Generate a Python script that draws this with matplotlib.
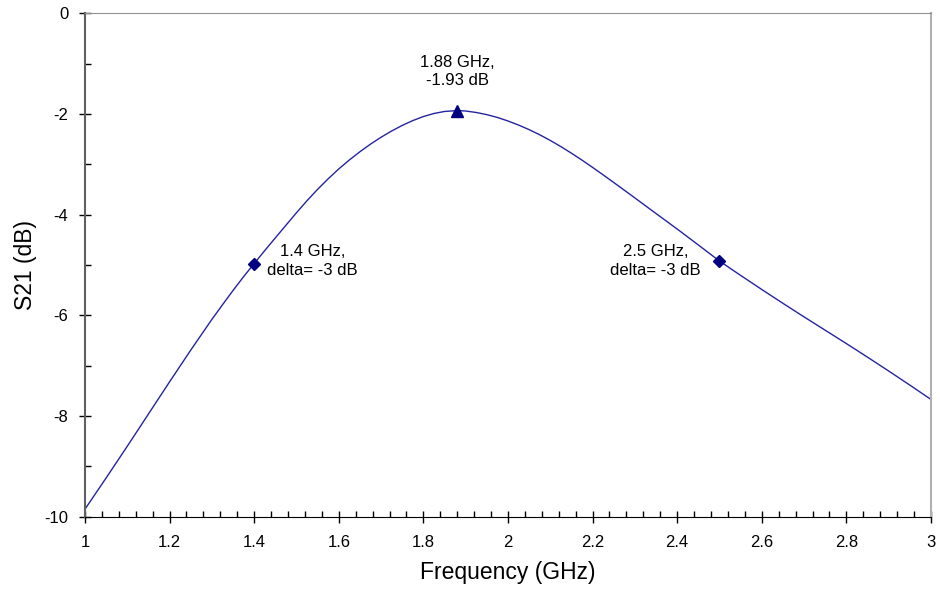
import numpy as np
import matplotlib.pyplot as plt
from matplotlib.ticker import MultipleLocator

plt.rcParams['font.family'] = ['Liberation Sans', 'DejaVu Sans']
plt.rcParams['axes.unicode_minus'] = False

# S21 curve
freq = [1.00, 1.05, 1.10, 1.15, 1.20, 1.25, 1.30, 1.325, 1.35, 1.375,
        1.40, 1.425, 1.45, 1.475, 1.50, 1.525, 1.55, 1.575, 1.60, 1.625,
        1.65, 1.675, 1.70, 1.725, 1.75, 1.775, 1.80, 1.825, 1.85, 1.88,
        1.90, 1.925, 1.95, 1.975, 2.00, 2.025, 2.05, 2.075, 2.10, 2.125,
        2.15, 2.175, 2.20, 2.225, 2.25, 2.275, 2.30, 2.325, 2.35, 2.375,
        2.40, 2.45, 2.50, 2.55, 2.60, 2.65, 2.70, 2.75, 2.80, 2.85,
        2.90, 2.95, 3.00]
s21 = [-9.85, -9.23, -8.60, -7.96, -7.32, -6.69, -6.08, -5.79, -5.505, -5.23,
       -4.97, -4.712, -4.46, -4.21, -3.96, -3.72, -3.495, -3.285, -3.09, -2.912,
       -2.748, -2.597, -2.46, -2.336, -2.225, -2.129, -2.049, -1.988, -1.948, -1.93,
       -1.939, -1.968, -2.011, -2.067, -2.137, -2.218, -2.309, -2.411, -2.524, -2.646,
       -2.777, -2.915, -3.059, -3.208, -3.359, -3.512, -3.666, -3.821, -3.976, -4.13,
       -4.284, -4.60, -4.92, -5.205, -5.485, -5.76, -6.03, -6.295, -6.56, -6.83,
       -7.105, -7.385, -7.67]

peak_f, peak_db = 1.88, -1.93
edge_f = [1.4, 2.5]
edge_db = [-4.97, -4.92]

fig = plt.figure(figsize=(9.4, 5.97), dpi=100)
ax = fig.add_axes([0.0904, 0.1345, 0.9, 0.843])

ax.plot(freq, s21, color='#2424a0', lw=1.0)
ax.plot([peak_f], [peak_db], marker='^', color='#000080', ms=8, ls='none')
ax.plot(edge_f, edge_db, marker='D', color='#000080', ms=6, ls='none')

txt = dict(textcoords='offset points', ha='center', va='center', fontsize=12,
           linespacing=1.3, multialignment='center')
ax.annotate('1.88 GHz,\n-1.93 dB', (peak_f, peak_db), xytext=(0, 28), **txt)
ax.annotate('1.4 GHz,\ndelta= -3 dB', (edge_f[0], edge_db[0]), xytext=(42, 2), **txt)
ax.annotate('2.5 GHz,\ndelta= -3 dB', (edge_f[1], edge_db[1]), xytext=(-46, 0), **txt)

ax.set_xlim(1, 3)
ax.set_ylim(-10, 0)
ax.xaxis.set_major_locator(MultipleLocator(0.2))
ax.xaxis.set_minor_locator(MultipleLocator(0.04))
ax.yaxis.set_major_locator(MultipleLocator(2))
ax.yaxis.set_minor_locator(MultipleLocator(1))
ax.xaxis.set_major_formatter(plt.FuncFormatter(lambda v, p: f'{v:g}'))
ax.yaxis.set_major_formatter(plt.FuncFormatter(lambda v, p: f'{v:g}'))

ax.tick_params(axis='both', which='major', direction='inout', length=8,
               width=1, labelsize=12, color='black')
ax.tick_params(axis='x', which='major', pad=9)
ax.tick_params(axis='y', which='major', pad=8)
ax.tick_params(axis='both', which='minor', direction='in', length=4, width=1,
               color='black')

ax.spines['bottom'].set_color('black')
ax.spines['left'].set_color('#606060')
ax.spines['left'].set_linewidth(1.5)
ax.spines['top'].set_color('#909090')
ax.spines['right'].set_color('#b0b0b0')
ax.spines['right'].set_linewidth(1.5)

ax.set_xlabel('Frequency (GHz)', fontsize=16.5, labelpad=8)
ax.set_ylabel('S21 (dB)', fontsize=16.5, labelpad=5)

fig.savefig('out.png', dpi=100)
